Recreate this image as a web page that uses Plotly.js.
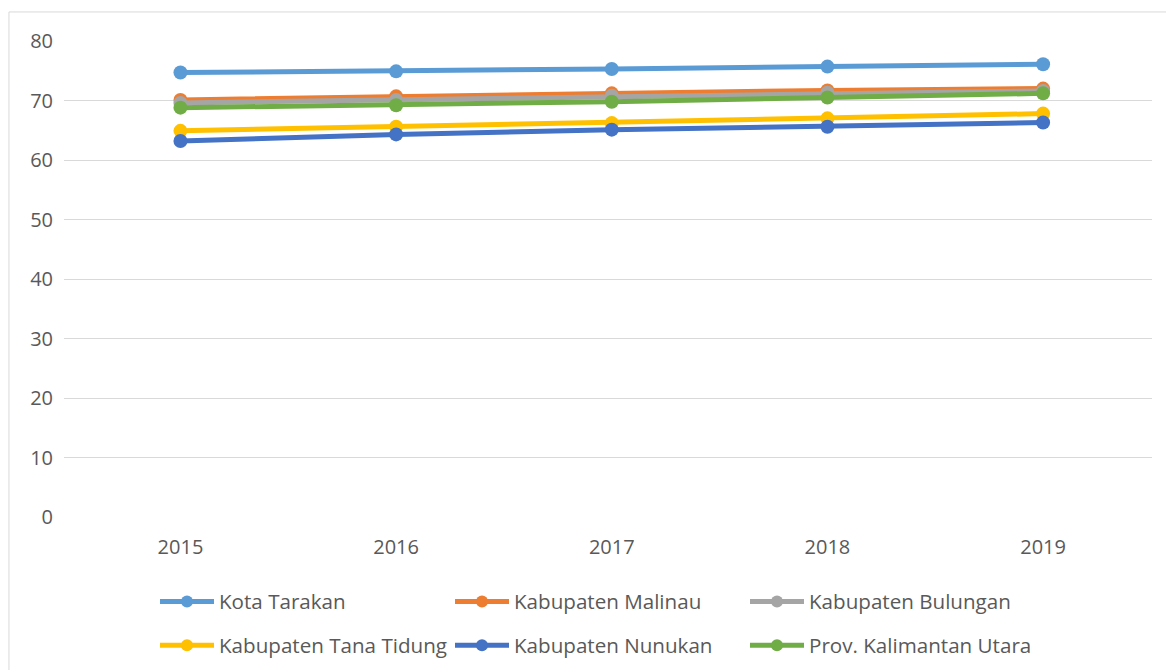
<!DOCTYPE html>
<html>
<head>
<meta charset="utf-8">
<script src="https://cdn.plot.ly/plotly-3.0.1.min.js"></script>
<style>
html,body{margin:0;padding:0;background:#fff;}
#chart{width:1166px;height:670px;}
</style>
</head>
<body>
<div id="chart"></div>
<script>
var years = ['2015', '2016', '2017', '2018', '2019'];
var seriesNames = ['Kota Tarakan', 'Kabupaten Malinau', 'Kabupaten Bulungan', 'Kabupaten Tana Tidung', 'Kabupaten Nunukan', 'Prov. Kalimantan Utara'];
var kotaTarakan = [74.7, 74.9, 75.3, 75.7, 76.1];
var kabMalinau = [70.1, 70.7, 71.2, 71.7, 72.0];
var kabBulungan = [69.6, 70.1, 70.8, 71.3, 71.6];
var kabTanaTidung = [64.9, 65.6, 66.2, 67.0, 67.8];
var kabNunukan = [63.2, 64.3, 65.1, 65.6, 66.3];
var provKaltara = [68.8, 69.2, 69.8, 70.5, 71.2];
var yTicks = [0, 10, 20, 30, 40, 50, 60, 70, 80];

var allValues = [kotaTarakan, kabMalinau, kabBulungan, kabTanaTidung, kabNunukan, provKaltara];
var colors = ['#5B9BD5', '#ED7D31', '#A5A5A5', '#FFC000', '#4472C4', '#70AD47'];
// legend column for each series (3 columns, 2 rows)
var legendIds = ['legend', 'legend2', 'legend3', 'legend', 'legend2', 'legend3'];

var traces = allValues.map(function (vals, i) {
  return {
    type: 'scatter',
    mode: 'lines+markers',
    name: seriesNames[i],
    x: years,
    y: vals,
    legend: legendIds[i],
    legendgroup: 'g' + i,
    line: {color: colors[i], width: 5},
    marker: {color: colors[i], size: 14}
  };
});

var font = 'Open Sans, Noto Sans, sans-serif';
var fs = 20;
function legendAt(xpx) {
  return {
    orientation: 'v',
    xref: 'container', yref: 'container',
    x: xpx / 1166,
    xanchor: 'left',
    y: 0.132,
    yanchor: 'top',
    itemwidth: 54,
    itemsizing: 'constant',
    tracegroupgap: 14,
    borderwidth: 0,
    font: {family: font, size: 20.6, color: '#595959'},
    bgcolor: 'rgba(0,0,0,0)'
  };
}

var layout = {
  width: 1166,
  height: 670,
  margin: {l: 64, r: 14, t: 41, b: 153, autoexpand: false},
  paper_bgcolor: '#fff',
  plot_bgcolor: '#fff',
  showlegend: true,
  font: {family: font, size: fs, color: '#595959'},
  xaxis: {
    type: 'category',
    range: [-0.54, 4.505],
    showgrid: false,
    zeroline: false,
    showline: false,
    ticks: '',
    ticklabelstandoff: 16,
    tickfont: {family: font, size: fs, color: '#595959'},
    fixedrange: true
  },
  yaxis: {
    range: [0, 80],
    tickvals: yTicks,
    showgrid: true,
    gridcolor: '#d9d9d9',
    gridwidth: 1,
    zeroline: false,
    showline: false,
    ticks: '',
    ticklabelstandoff: 10,
    tickfont: {family: font, size: fs, color: '#595959'},
    fixedrange: true
  },
  legend: legendAt(155),
  legend2: legendAt(450),
  legend3: legendAt(745),
  shapes: [{
    type: 'rect',
    xref: 'paper', yref: 'paper',
    x0: -0.0506, x1: 1.02, y0: -0.34, y1: 1.061,
    line: {color: '#d9d9d9', width: 1},
    fillcolor: 'rgba(0,0,0,0)',
    layer: 'below'
  }]
};

Plotly.newPlot('chart', traces, layout, {displayModeBar: false, staticPlot: true});
</script>
</body>
</html>
